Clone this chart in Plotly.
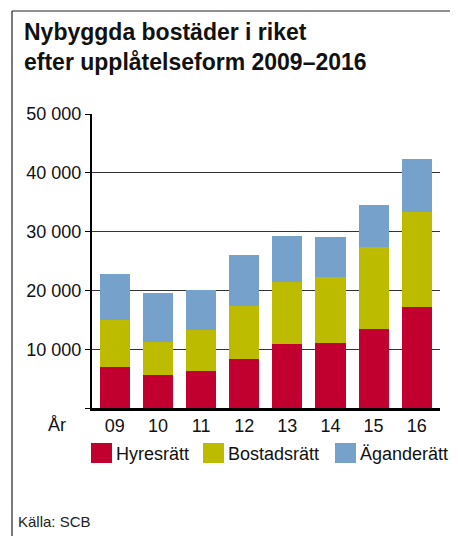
import plotly.graph_objects as go

years = ["09", "10", "11", "12", "13", "14", "15", "16"]
hyresratt = [7000, 5600, 6350, 8400, 10900, 11100, 13500, 17200]
bostadsratt = [8000, 5700, 6950, 9000, 10600, 11100, 13800, 16200]
aganderatt = [7800, 8300, 6800, 8700, 7800, 6900, 7200, 8900]
series_names = ["Hyresrätt", "Bostadsrätt", "Äganderätt"]
series_colors = ["#c2002f", "#bdbb00", "#75a1ca"]
y_ticks = [0, 10000, 20000, 30000, 40000, 50000]
y_ticklabels = ["", "10 000", "20 000", "30 000", "40 000", "50 000"]

# page is 458x536; the html body has an 8px margin, so the figure is drawn 8px smaller
OFF = 8
W, H = 458 - OFF, 536 - OFF
PL, PR, PT, PB = 92, 440, 114, 408          # plot area in page pixels
L, R, T, B = PL - OFF, W - (PR - OFF), PT - OFF, H - (PB - OFF)
PW, PH = PR - PL, PB - PT
FONT = "Liberation Sans, Arial, Helvetica, sans-serif"

def px(x):
    return (x - PL) / PW

def py(y):
    return (PB - y) / PH

fig = go.Figure()
for name, vals, col in zip(series_names, [hyresratt, bostadsratt, aganderatt], series_colors):
    fig.add_trace(go.Bar(x=years, y=vals, name=name, marker=dict(color=col, line=dict(width=0)),
                         width=0.7, showlegend=False))

fig.update_layout(
    barmode="stack",
    width=W, height=H,
    margin=dict(l=L, r=R, t=T, b=B, pad=0),
    paper_bgcolor="white", plot_bgcolor="white",
    font=dict(family=FONT, color="#111", size=18),
    xaxis=dict(range=[-0.53, 7.54], showline=True, linecolor="black", linewidth=2.5,
               ticks="", tickfont=dict(size=18, color="#111"), showgrid=False, fixedrange=True),
    yaxis=dict(range=[0, 50000], tickvals=y_ticks, ticktext=y_ticklabels,
               showline=True, linecolor="black", linewidth=2,
               ticks="outside", ticklen=5, tickcolor="black", tickwidth=1,
               showgrid=True, gridcolor="#333", gridwidth=1.2,
               tickfont=dict(size=18, color="#111"), zeroline=False),
)

shapes = []
# frame: left and top line
shapes.append(dict(type="line", xref="paper", yref="paper", x0=px(12), x1=px(12), y0=py(11), y1=py(560),
                   line=dict(color="#222", width=1.2)))
shapes.append(dict(type="line", xref="paper", yref="paper", x0=px(12), x1=px(480), y0=py(11), y1=py(11),
                   line=dict(color="#222", width=1.2)))

annotations = [
    dict(text="<b>Nybyggda bostäder i riket</b>", xref="paper", yref="paper", x=px(22), y=py(32),
         xanchor="left", yanchor="middle", showarrow=False, font=dict(size=23, color="#111", family=FONT)),
    dict(text="<b>efter upplåtelseform 2009–2016</b>", xref="paper", yref="paper", x=px(22), y=py(62),
         xanchor="left", yanchor="middle", showarrow=False, font=dict(size=23, color="#111", family=FONT)),
    dict(text="År", xref="paper", yref="paper", x=px(57), y=py(425), xanchor="center", yanchor="middle",
         showarrow=False, font=dict(size=18, color="#111", family=FONT)),
    dict(text="Källa: SCB", xref="paper", yref="paper", x=px(16), y=py(521), xanchor="left", yanchor="middle",
         showarrow=False, font=dict(size=15, color="#222", family=FONT)),
]

legend_x = [91, 203, 335]
for lx, name, col in zip(legend_x, series_names, series_colors):
    shapes.append(dict(type="rect", xref="paper", yref="paper", x0=px(lx), x1=px(lx + 21),
                       y0=py(463), y1=py(443), fillcolor=col, line=dict(width=0)))
    annotations.append(dict(text=name, xref="paper", yref="paper", x=px(lx + 23), y=py(454),
                            xanchor="left", yanchor="middle", showarrow=False,
                            font=dict(size=18, color="#111", family=FONT)))

fig.update_layout(shapes=shapes, annotations=annotations)
fig.write_html("out.html")
